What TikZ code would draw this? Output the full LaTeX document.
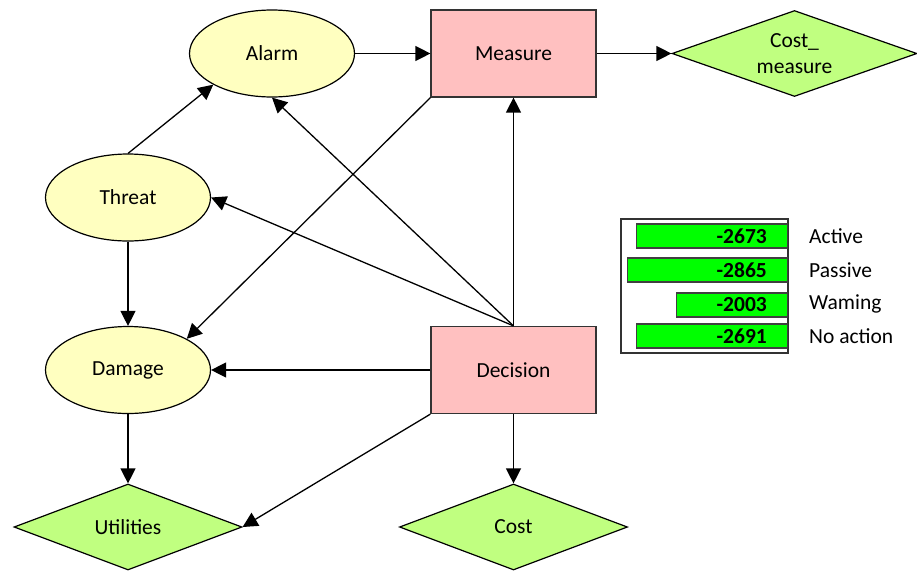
\documentclass[tikz,border=0pt]{standalone}
\usepackage{fontspec}
\setmainfont{Carlito}
\usetikzlibrary{shapes.geometric,arrows.meta}
\definecolor{chancefill}{HTML}{FFFFC0}
\definecolor{decfill}{HTML}{FFC0C0}
\definecolor{utilfill}{HTML}{C0FF80}
\definecolor{barfill}{HTML}{00FF00}
\tikzset{
  lbl/.style={font=\fontsize{21.5}{26}\selectfont},
  chance/.style={lbl, ellipse, draw=black, line width=1.2pt, fill=chancefill,
    minimum width=165, minimum height=87, inner sep=0pt},
  decision/.style={lbl, rectangle, draw=black!80, line width=1.2pt, fill=decfill,
    minimum width=165, minimum height=87, inner sep=0pt},
  utility/.style={lbl, diamond, draw=black, line width=1.2pt, fill=utilfill,
    minimum width=228, minimum height=86, inner sep=0pt, align=center},
  link/.style={line width=1.3pt, -{Triangle[length=15pt,width=15pt]}},
  bar/.style={draw=black!75, line width=1.2pt, fill=barfill},
  barval/.style={lbl, font=\fontsize{21.5}{26}\selectfont\bfseries, anchor=east, inner sep=0pt},
  barlbl/.style={lbl, anchor=west, inner sep=0pt}
}
\begin{document}
\begin{tikzpicture}[x=1pt,y=-1pt]
\useasboundingbox (0,0) rectangle (917,571);

% nodes
\node[chance]   (alarm)  at (272,53.5)   {Alarm};
\node[decision] (meas)   at (513.5,53.5) {Measure};
\node[utility, minimum width=245] (cm) at (794.5,53.5) {};
\node[lbl, align=center, inner sep=0pt] (cmtext) at (cm.center) {Cost\_\\measure};
\node[chance]   (threat) at (128,197.5)  {Threat};
\node[chance]   (damage) at (128,370)    {Damage};
\node[decision] (dec)    at (513.5,370)  {Decision};
\node[utility]  (util)   at (128,527)    {Utilities};
\node[utility]  (cost)   at (513.5,527)  {Cost};

% connectors
\draw[link] (alarm.east) -- (meas.west);
\draw[link] (meas.east) -- (cm.west);
\draw[link] (threat.north) -- (alarm.south west);
\draw[link] (threat.south) -- (damage.north);
\draw[link] (dec.north) -- (meas.south);
\draw[link] (dec.north) -- (alarm.south);
\draw[link] (dec.north) -- (threat.east);
\draw[link] (meas.south west) -- (damage.north east);
\draw[link] (dec.west) -- (damage.east);
\draw[link] (damage.south) -- (util.north);
\draw[link] (dec.south west) -- (util.east);
\draw[link] (dec.south) -- (cost.north);

% expected utility panel
\node[draw=black!80, line width=1.2pt, fill=white, minimum width=167, minimum height=134,
  inner sep=0pt] (panel) at (704.5,286) {};
\node[bar, minimum width=151, minimum height=24, inner sep=0pt, anchor=east] (b1) at (788,236) {};
\node[bar, minimum width=160, minimum height=24, inner sep=0pt, anchor=east] (b2) at (788,270) {};
\node[bar, minimum width=111, minimum height=24, inner sep=0pt, anchor=east] (b3) at (788,305) {};
\node[bar, minimum width=151, minimum height=24, inner sep=0pt, anchor=east] (b4) at (788,336) {};
\node[barval] (v1) at (767,236) {-2673};
\node[barval] (v2) at (767,270) {-2865};
\node[barval] (v3) at (767,305) {-2003};
\node[barval] (v4) at (767,336) {-2691};
\node[barlbl] (l1) at (809,236) {Active};
\node[barlbl] (l2) at (809,270) {Passive};
\node[barlbl] (l3) at (809,304) {Waming};
\node[barlbl] (l4) at (809,336) {No action};
\end{tikzpicture}
\end{document}
